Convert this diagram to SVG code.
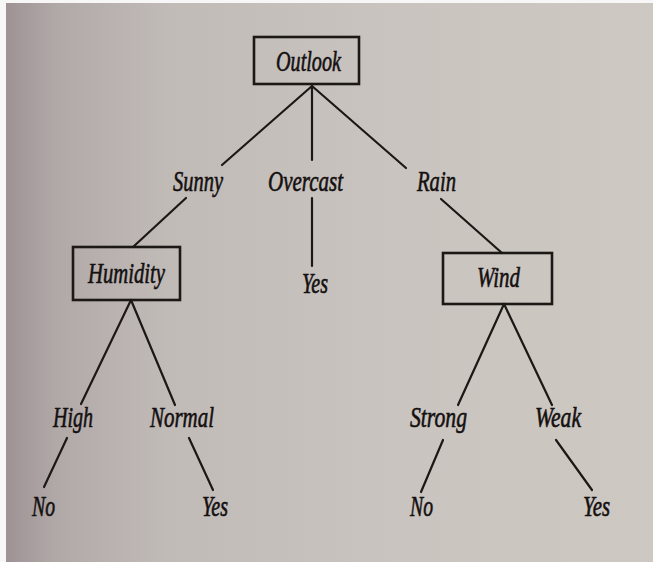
<svg xmlns="http://www.w3.org/2000/svg" width="653" height="562" viewBox="0 0 653 562">
  <defs>
    <linearGradient id="paper" x1="0" y1="0" x2="1" y2="0">
      <stop offset="0" stop-color="#9e9295"/>
      <stop offset="0.08" stop-color="#b1a9a8"/>
      <stop offset="0.25" stop-color="#c1bbb8"/>
      <stop offset="0.6" stop-color="#c9c4bf"/>
      <stop offset="1" stop-color="#cdc8c1"/>
    </linearGradient>
    <style>
      .box { fill: none; stroke: #1c1816; stroke-width: 2.6; }
      .edge { stroke: #1c1816; stroke-width: 2.2; fill: none; stroke-linecap: round; }
      .lbl { font-family: "Liberation Serif", "Times New Roman", serif; font-style: italic; font-size: 29px; fill: #141010; stroke: #141010; stroke-width: 0.6; }
    </style>
  </defs>

  <!-- page -->
  <rect x="0" y="0" width="653" height="562" fill="#f7f7f7"/>
  <rect x="6" y="3" width="647" height="559" fill="url(#paper)"/>

  <!-- connectors -->
  <g id="connectors">
    <line class="edge" x1="312" y1="86" x2="222" y2="165"/>
    <line class="edge" x1="312" y1="86" x2="312" y2="160"/>
    <line class="edge" x1="312" y1="86" x2="406" y2="168"/>
    <line class="edge" x1="186" y1="198" x2="133" y2="247"/>
    <line class="edge" x1="312" y1="198" x2="312" y2="266"/>
    <line class="edge" x1="441" y1="199" x2="502" y2="253"/>
    <line class="edge" x1="131" y1="300" x2="81" y2="404"/>
    <line class="edge" x1="131" y1="300" x2="175" y2="405"/>
    <line class="edge" x1="504" y1="304" x2="458" y2="405"/>
    <line class="edge" x1="504" y1="304" x2="552" y2="405"/>
    <line class="edge" x1="67" y1="438" x2="44" y2="487"/>
    <line class="edge" x1="189" y1="438" x2="213" y2="490"/>
    <line class="edge" x1="443" y1="440" x2="421" y2="492"/>
    <line class="edge" x1="556" y1="440" x2="592" y2="490"/>
  </g>

  <!-- attribute nodes -->
  <g id="outlook">
    <rect class="box" x="254" y="37" width="105" height="47"/>
    <text class="lbl" x="276" y="71" textLength="65" lengthAdjust="spacingAndGlyphs">Outlook</text>
  </g>
  <g id="humidity">
    <rect class="box" x="73" y="247" width="107" height="53"/>
    <text class="lbl" x="88" y="283" textLength="77" lengthAdjust="spacingAndGlyphs">Humidity</text>
  </g>
  <g id="wind">
    <rect class="box" x="443" y="253" width="109" height="51"/>
    <text class="lbl" x="477" y="287" textLength="43" lengthAdjust="spacingAndGlyphs">Wind</text>
  </g>

  <!-- branch values -->
  <g id="sunny"><text class="lbl" x="173" y="191" textLength="50" lengthAdjust="spacingAndGlyphs">Sunny</text></g>
  <g id="overcast"><text class="lbl" x="268" y="191" textLength="75" lengthAdjust="spacingAndGlyphs">Overcast</text></g>
  <g id="rain"><text class="lbl" x="417" y="191" textLength="39" lengthAdjust="spacingAndGlyphs">Rain</text></g>
  <g id="high"><text class="lbl" x="53" y="427" textLength="40" lengthAdjust="spacingAndGlyphs">High</text></g>
  <g id="normal"><text class="lbl" x="150" y="427" textLength="64" lengthAdjust="spacingAndGlyphs">Normal</text></g>
  <g id="strong"><text class="lbl" x="410" y="427" textLength="57" lengthAdjust="spacingAndGlyphs">Strong</text></g>
  <g id="weak"><text class="lbl" x="535" y="427" textLength="46" lengthAdjust="spacingAndGlyphs">Weak</text></g>

  <!-- leaves -->
  <g id="leaf-overcast"><text class="lbl" x="302" y="293" textLength="26" lengthAdjust="spacingAndGlyphs">Yes</text></g>
  <g id="leaf-high"><text class="lbl" x="32" y="516" textLength="23" lengthAdjust="spacingAndGlyphs">No</text></g>
  <g id="leaf-normal"><text class="lbl" x="202" y="516" textLength="26" lengthAdjust="spacingAndGlyphs">Yes</text></g>
  <g id="leaf-strong"><text class="lbl" x="410" y="516" textLength="23" lengthAdjust="spacingAndGlyphs">No</text></g>
  <g id="leaf-weak"><text class="lbl" x="583" y="516" textLength="27" lengthAdjust="spacingAndGlyphs">Yes</text></g>
</svg>
